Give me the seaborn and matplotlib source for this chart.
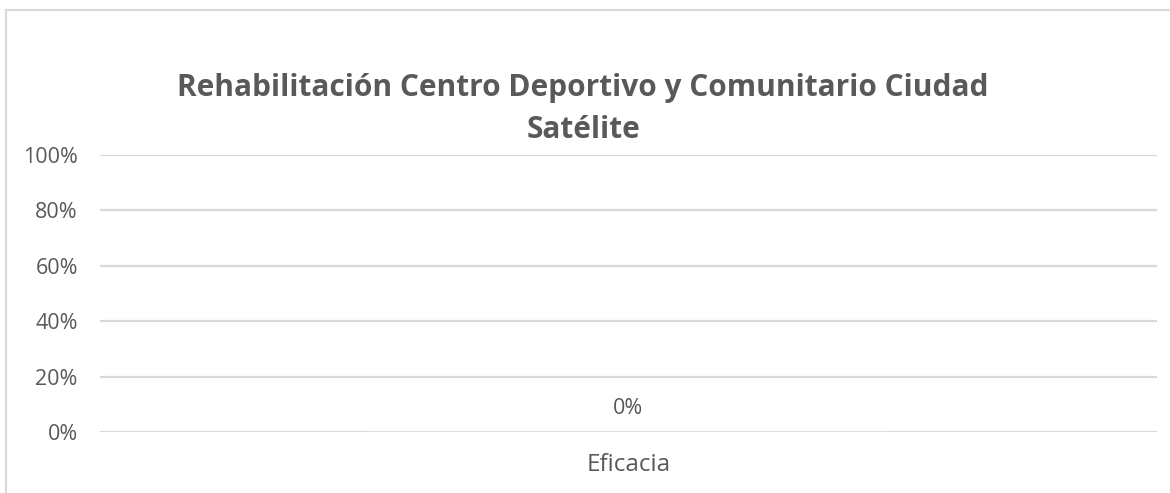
import numpy as np
import pandas as pd
import matplotlib
matplotlib.use("Agg")
import matplotlib.pyplot as plt
import seaborn as sns
from matplotlib.patches import Rectangle

# chart data
categories = ["Eficacia"]
values = [0.0]
value_labels = ["0%"]
y_ticks = [0, 0.2, 0.4, 0.6, 0.8, 1.0]
y_tick_labels = ["0%", "20%", "40%", "60%", "80%", "100%"]
title = "Rehabilitación Centro Deportivo y Comunitario Ciudad\nSatélite"

sns.set_theme(style="white")
plt.rcParams['font.family'] = ['Open Sans', 'DejaVu Sans']

W, H = 1170, 493
fig = plt.figure(figsize=(W / 100, H / 100), dpi=100)
ax = fig.add_axes([100 / W, (H - 432) / H, (1157 - 100) / W, (432 - 155) / H])

df = pd.DataFrame({"cat": categories, "val": values})
sns.barplot(data=df, x="cat", y="val", color="#4472c4", ax=ax, width=0.5)
ax.bar_label(ax.containers[0], labels=value_labels, padding=9, fontsize=15.5, color="#595959")

ax.set_ylim(0, 1.0)
ax.set_yticks(y_ticks)
ax.set_yticklabels(y_tick_labels)
ax.yaxis.grid(True, color="#d9d9d9", linewidth=1.6)
ax.set_axisbelow(True)
for s in ax.spines.values():
    s.set_visible(False)
ax.tick_params(axis="y", length=0, pad=16, labelsize=15.5, labelcolor="#595959")
ax.tick_params(axis="x", length=0, pad=15, labelsize=17.5, labelcolor="#595959")
ax.set_xlabel("")
ax.set_ylabel("")

fig.text(583 / W, 1 - 109 / H, title, ha="center", va="center", fontsize=21.5,
         fontweight="bold", color="#595959", linespacing=1.55)

# chart frame
fig.patches.append(Rectangle((6 / W, -0.1), 1.2, 1 - 10 / H + 0.1, transform=fig.transFigure,
                             fill=False, edgecolor="#d9d9d9", linewidth=1.5))

fig.savefig("out.png", dpi=100, facecolor="white")
